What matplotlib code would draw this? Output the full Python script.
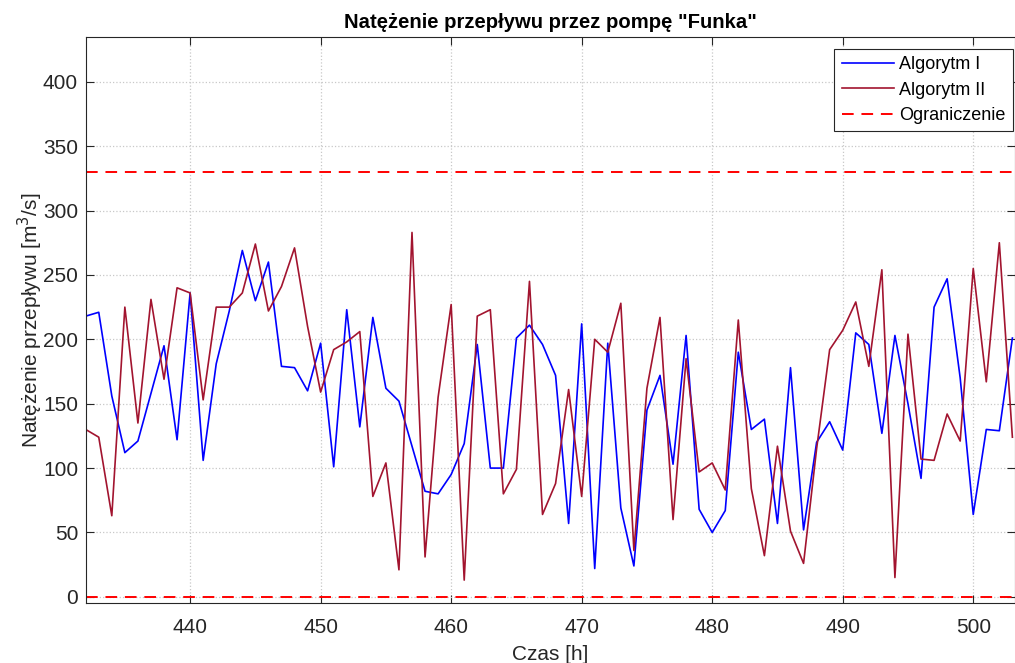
import matplotlib
matplotlib.use('Agg')
import matplotlib.pyplot as plt

plt.rcParams['font.family'] = ['Liberation Sans', 'DejaVu Sans']

czas = list(range(432, 504))

alg1 = [218, 221, 156, 112, 121, 158, 195, 122, 236, 106, 181, 222,
        269, 230, 260, 179, 178, 160, 197, 101, 223, 132, 217, 162,
        152, 117, 82, 80, 95, 119, 196, 100, 100, 201, 211, 196,
        172, 57, 212, 22, 197, 69, 24, 145, 172, 103, 203, 68,
        50, 67, 190, 130, 138, 57, 178, 52, 120, 136, 114, 205,
        196, 127, 203, 150, 92, 225, 247, 170, 64, 130, 129, 201]

alg2 = [130, 124, 63, 225, 135, 231, 169, 240, 236, 153, 225, 225,
        236, 274, 222, 241, 271, 210, 159, 192, 198, 206, 78, 104,
        21, 283, 31, 155, 227, 13, 218, 223, 80, 99, 245, 64,
        88, 161, 78, 200, 190, 228, 36, 162, 217, 60, 185, 97,
        104, 83, 215, 84, 32, 117, 51, 26, 115, 192, 207, 229,
        179, 254, 15, 204, 107, 106, 142, 121, 255, 167, 275, 124]

ograniczenia = [0, 330]

fig = plt.figure(figsize=(10.15, 6.63), dpi=100)
ax = fig.add_axes([85.7 / 1015, 1 - 603.3 / 663, (1015 - 85.7) / 1015, (603.3 - 36.7) / 663])

ax.plot(czas, alg1, color='#0000FF', linewidth=1.2, label='Algorytm I')
ax.plot(czas, alg2, color='#A2142F', linewidth=1.2, label='Algorytm II')
for i, g in enumerate(ograniczenia):
    ax.axhline(g, color='#FF0000', linestyle=(0, (6, 4)), linewidth=1.4,
               label='Ograniczenie' if i == 0 else None)

ax.set_xlim(432, 503.2)
ax.set_ylim(-5, 435)
ax.set_xticks(range(440, 501, 10))
ax.set_yticks(range(0, 401, 50))
ax.grid(True, color='#c8c8c8', linestyle=':', linewidth=0.9)
ax.tick_params(direction='in', top=True, right=True, labelsize=15, length=6, colors='#262626')
ax.tick_params(axis='x', pad=10.5)
ax.tick_params(axis='y', pad=5.5)
for s in ax.spines.values():
    s.set_color('#262626')

ax.set_title('Natężenie przepływu przez pompę "Funka"', fontsize=14.6, fontweight='bold')
ax.set_xlabel('Czas [h]', fontsize=15, color='#262626', labelpad=6)
ax.set_ylabel('Natężenie przepływu [m$^3$/s]', fontsize=15, color='#262626', labelpad=-1.5)

leg = ax.legend(loc='upper right', bbox_to_anchor=(1013 / 1015, 1 - 49 / 663),
                bbox_transform=fig.transFigure, borderaxespad=0,
                fontsize=13, fancybox=False, framealpha=1,
                edgecolor='#262626', handlelength=2.9,
                labelspacing=0.47, handletextpad=0.3)
leg.get_frame().set_linewidth(0.8)

fig.savefig('out.png', dpi=100)
